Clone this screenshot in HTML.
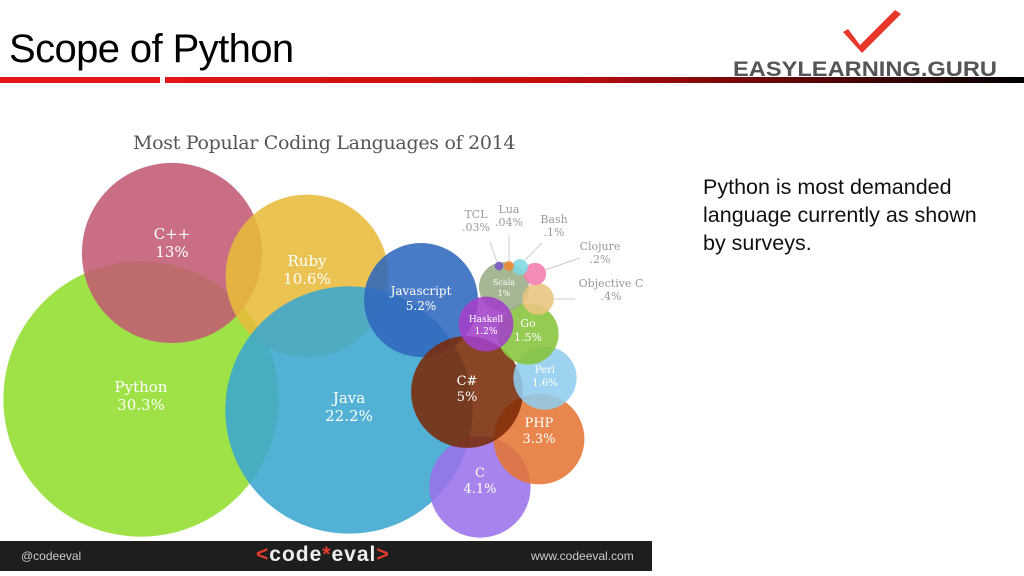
<!DOCTYPE html>
<html><head><meta charset="utf-8"><style>
body{margin:0;width:1024px;height:576px;background:#fff;overflow:hidden;position:relative;font-family:"Liberation Sans",sans-serif}
.abs{position:absolute}
</style></head><body>
<div class="abs" style="left:9px;top:27px;font-size:40px;color:#000;letter-spacing:-0.6px">Scope of Python</div>
<svg class="abs" style="left:0;top:0" width="1024" height="100">
<defs><linearGradient id="rg" x1="0" x2="1"><stop offset="0" stop-color="#e0161b"/><stop offset="0.45" stop-color="#c50d10"/><stop offset="1" stop-color="#000"/></linearGradient></defs>
<rect x="0" y="77" width="160" height="6" fill="#e0161b"/>
<rect x="165" y="77" width="859" height="6" fill="url(#rg)"/>
<path d="M843,32 L848,29 L860,45 L895,10 L901,14 L862,53 Z" fill="#e6372a"/>
<text x="733" y="76" font-family="Liberation Sans, sans-serif" font-weight="bold" font-size="21" fill="#555" textLength="264" lengthAdjust="spacingAndGlyphs">EASYLEARNING.GURU</text>
</svg>
<div class="abs" style="left:133px;top:132px;font-family:'DejaVu Serif',serif;font-size:19px;color:#555;letter-spacing:-0.3px">Most Popular Coding Languages of 2014</div>
<div class="abs" style="left:703px;top:173px;font-size:21.5px;line-height:28px;color:#111">Python is most demanded<br>language currently as shown<br>by surveys.</div>
<svg id="chart" class="abs" style="left:0;top:0" width="660" height="545"></svg>
<div class="abs" style="left:0;top:541px;width:652px;height:30px;background:#1e1e1e"></div>
<div class="abs" style="left:21px;top:549px;font-size:12px;color:#ccc">@codeeval</div>
<div class="abs" style="left:256px;top:543px;font-size:21px;font-weight:bold;color:#eee;letter-spacing:1px"><span style="color:#e53a2e">&lt;</span>code<span style="color:#e53a2e">*</span>eval<span style="color:#e53a2e">&gt;</span></div>
<div class="abs" style="left:531px;top:549px;font-size:12px;color:#ccc">www.codeeval.com</div>
<script>
const languages=["Python","C++","Ruby","Java","Javascript","C","PHP","C#","Perl","Go","Scala","Haskell","Objective C","Clojure","Bash","Lua","TCL"];
const shares=[30.3,13,10.6,22.2,5.2,4.1,3.3,5,1.6,1.5,1,1.2,0.4,0.2,0.1,0.04,0.03];
const labels=["30.3%","13%","10.6%","22.2%","5.2%","4.1%","3.3%","5%","1.6%","1.5%","1%","1.2%",".4%",".2%",".1%",".04%",".03%"];
const colors=["#9ee247","#c25a73","#e7bb3a","#3aa6cf","#2f68bd","#9a72ea","#e57534","#7a2a08","#8fcdef","#86c43a","#98ad86","#a240c8","#e9c57e","#f27cae","#7dd8e2","#ef8a34","#7d55c4"];
const centers=[[141,399],[172,253],[307,276],[349,410],[421,300],[480,487],[539,439],[467,392],[545,378],[528,334],[504,287],[486,324],[538,299],[535,274],[520,267],[509,266],[499,266]];
const rScale=v=>25*Math.sqrt(v);
const svg=document.getElementById('chart');
const NS='http://www.w3.org/2000/svg';
languages.forEach((n,i)=>{
 const c=document.createElementNS(NS,'circle');
 
 
 c.setAttribute('cx',centers[i][0]);c.setAttribute('cy',centers[i][1]);
 c.setAttribute('r',rScale(shares[i])*(i==3?1.05:1));c.setAttribute('fill',colors[i]);c.setAttribute('fill-opacity',i==0?1:0.88);
 svg.appendChild(c);
});
function txt(x,y,s,size,fill,anchor){
 const t=document.createElementNS(NS,'text');
 
 
 t.setAttribute('x',x);t.setAttribute('y',y);t.setAttribute('font-size',size);t.setAttribute('fill',fill);
 t.setAttribute('text-anchor',anchor||'middle');t.setAttribute('font-family','DejaVu Serif, serif');
 t.textContent=s;svg.appendChild(t);
}
const inside=[0,1,2,3,4,5,6,7,8,9,10,11];
const fs=[15,15,15,15,12,13,13,13,10,11,8,9];
const lblOff=[[0,-5],[0,-12],[0,-8],[0,-5],[0,-3],[0,-8],[0,-10],[0,-5],[0,-3],[0,-5],[0,0],[0,0]];
inside.forEach((i,k)=>{
 const x=centers[i][0]+lblOff[k][0],y=centers[i][1]+lblOff[k][1];
 txt(x,y-2,languages[i],fs[k],'#fff');
 txt(x,y+fs[k]+1,labels[i],fs[k],'#fff');
});
const outside=[[12,611,287,[553,299,575,299]],[13,600,250,[545,270,580,258]],[14,554,223,[525,260,542,243]],[15,509,213,[509,261,509,235]],[16,476,218,[497,262,490,242]]];
outside.forEach(o=>{
 const i=o[0];
 const l=document.createElementNS(NS,'line');
 
 
 l.setAttribute('x1',o[3][0]);l.setAttribute('y1',o[3][1]);l.setAttribute('x2',o[3][2]);l.setAttribute('y2',o[3][3]);
 l.setAttribute('stroke','#ccc');svg.appendChild(l);
 txt(o[1],o[2],languages[i],11,'#999');
 txt(o[1],o[2]+13,labels[i],11,'#999');
});
</script>
</body></html>
